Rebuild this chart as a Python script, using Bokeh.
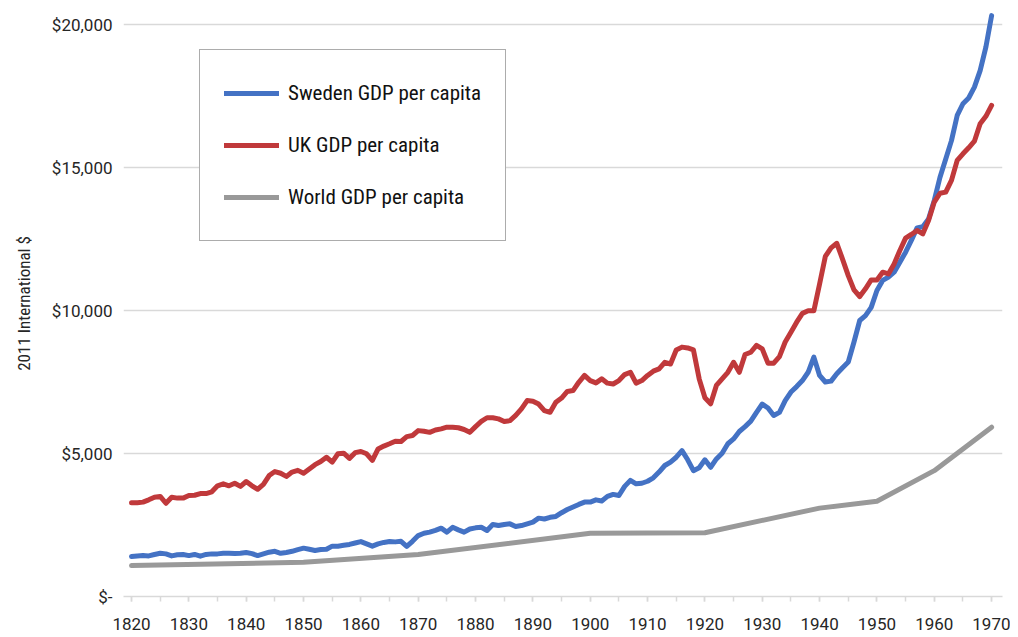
from bokeh.plotting import figure
from bokeh.models import FixedTicker, CustomJSTickFormatter, Legend, LegendItem, Range1d
from bokeh.embed import file_html
from bokeh.resources import INLINE

# ---------------- data ----------------
years = list(range(1820, 1971))

sweden_gdp = [
    1400, 1420, 1430, 1420, 1470, 1510, 1490, 1420, 1460, 1470,   # 1820-1829
    1430, 1470, 1410, 1470, 1490, 1490, 1510, 1510, 1500, 1510,   # 1830-1839
    1540, 1500, 1430, 1490, 1550, 1580, 1510, 1540, 1580, 1640,   # 1840-1849
    1690, 1650, 1610, 1640, 1650, 1760, 1760, 1790, 1820, 1870,   # 1850-1859
    1920, 1840, 1760, 1840, 1890, 1920, 1910, 1930, 1750, 1930,   # 1860-1869
    2130, 2210, 2250, 2310, 2390, 2250, 2420, 2330, 2250, 2360,   # 1870-1879
    2400, 2420, 2310, 2520, 2480, 2520, 2540, 2450, 2480, 2540,   # 1880-1889
    2600, 2740, 2710, 2770, 2800, 2930, 3040, 3130, 3220, 3300,   # 1890-1899
    3300, 3380, 3340, 3500, 3570, 3530, 3850, 4060, 3940, 3960,   # 1900-1909
    4030, 4150, 4350, 4580, 4700, 4870, 5100, 4780, 4400, 4500,   # 1910-1919
    4780, 4520, 4810, 5010, 5340, 5510, 5770, 5940, 6130, 6440,   # 1920-1929
    6730, 6590, 6330, 6440, 6850, 7150, 7340, 7550, 7840, 8370,   # 1930-1939
    7730, 7500, 7530, 7790, 8000, 8200, 8900, 9650, 9820, 10110,  # 1940-1949
    10700, 11050, 11170, 11340, 11690, 12040, 12450, 12890, 12930, 13200,  # 1950-1959
    13850, 14660, 15300, 15940, 16820, 17230, 17430, 17810, 18390, 19210,  # 1960-1969
    20310,                                                          # 1970
]

uk_gdp = [
    3280, 3280, 3300, 3380, 3470, 3500, 3260, 3470, 3440, 3440,   # 1820-1829
    3530, 3540, 3600, 3600, 3660, 3870, 3940, 3870, 3960, 3850,   # 1830-1839
    4020, 3870, 3750, 3920, 4230, 4370, 4310, 4200, 4350, 4410,   # 1840-1849
    4310, 4460, 4610, 4720, 4870, 4700, 4990, 5010, 4830, 5030,   # 1850-1859
    5070, 4990, 4760, 5160, 5260, 5340, 5430, 5420, 5590, 5630,   # 1860-1869
    5800, 5780, 5740, 5820, 5860, 5920, 5920, 5900, 5840, 5740,   # 1870-1879
    5940, 6120, 6250, 6250, 6210, 6120, 6150, 6330, 6560, 6850,   # 1880-1889
    6830, 6730, 6500, 6440, 6790, 6940, 7170, 7200, 7490, 7730,   # 1890-1899
    7550, 7470, 7610, 7460, 7430, 7550, 7760, 7840, 7460, 7550,   # 1900-1909
    7730, 7880, 7960, 8190, 8130, 8620, 8720, 8690, 8620, 7610,   # 1910-1919
    6950, 6740, 7380, 7610, 7840, 8190, 7840, 8460, 8540, 8780,   # 1920-1929
    8660, 8160, 8160, 8390, 8900, 9240, 9590, 9900, 9990, 9990,   # 1930-1939
    10930, 11890, 12190, 12350, 11800, 11220, 10720, 10490, 10760, 11070,  # 1940-1949
    11070, 11340, 11280, 11630, 12100, 12530, 12660, 12800, 12680, 13150,  # 1950-1959
    13790, 14100, 14140, 14550, 15250, 15480, 15690, 15920, 16530, 16790,  # 1960-1969
    17170,                                                          # 1970
]

world_years = [1820, 1850, 1870, 1900, 1920, 1940, 1950, 1960, 1970]
world_gdp = [1080, 1200, 1470, 2210, 2230, 3090, 3330, 4400, 5920]

series_labels = ["Sweden GDP per capita", "UK GDP per capita", "World GDP per capita"]
y_ticks = [0, 5000, 10000, 15000, 20000]
x_major_ticks = list(range(1820, 1971, 10))
x_minor_ticks = list(range(1820, 1971, 5))
y_axis_title = "2011 International $"

# ---------------- styling ----------------
NARROW = "Roboto Condensed"
TICKFONT = "Roboto"
TEXT_COLOR = "#262626"
GRID = "#d9d9d9"

p = figure(width=1010, height=637, output_backend="svg", toolbar_location=None,
           x_range=Range1d(1818.6, 1971.9), y_range=Range1d(0, 20490),
           min_border_left=123, min_border_right=8, min_border_top=10,
           min_border_bottom=41)
p.outline_line_color = None
p.background_fill_color = "white"
p.border_fill_color = "white"

p.xgrid.visible = False
p.ygrid.grid_line_color = GRID
p.ygrid.grid_line_width = 1.5

# y axis
p.yaxis.ticker = FixedTicker(ticks=y_ticks)
p.yaxis.formatter = CustomJSTickFormatter(code="""
    if (tick == 0) { return '$-'; }
    return '$' + Math.round(tick).toLocaleString('en-US');
""")
p.yaxis.axis_line_color = None
p.yaxis.major_tick_line_color = None
p.yaxis.minor_tick_line_color = None
p.yaxis.major_label_standoff = 5
p.yaxis.major_label_text_font = TICKFONT
p.yaxis.major_label_text_font_size = "17px"
p.yaxis.major_label_text_color = TEXT_COLOR
p.yaxis.axis_label = y_axis_title
p.yaxis.axis_label_text_font = NARROW
p.yaxis.axis_label_text_font_size = "17px"
p.yaxis.axis_label_text_font_style = "normal"
p.yaxis.axis_label_text_color = TEXT_COLOR
p.yaxis.axis_label_standoff = 15

# x axis
p.xaxis.ticker = FixedTicker(ticks=x_major_ticks, minor_ticks=x_minor_ticks)
p.xaxis.axis_line_color = GRID
p.xaxis.axis_line_width = 1.5
p.xaxis.major_tick_line_color = GRID
p.xaxis.major_tick_line_width = 1.5
p.xaxis.minor_tick_line_color = GRID
p.xaxis.minor_tick_line_width = 1.5
p.xaxis.major_tick_in = 0
p.xaxis.major_tick_out = 5
p.xaxis.minor_tick_in = 0
p.xaxis.minor_tick_out = 5
p.xaxis.major_label_standoff = 16
p.xaxis.major_label_text_font = TICKFONT
p.xaxis.major_label_text_font_size = "17px"
p.xaxis.major_label_text_color = TEXT_COLOR

# lines
r_se = p.line(years, sweden_gdp, line_width=5, line_color="#4472C4",
              line_cap="round", line_join="round")
r_uk = p.line(years, uk_gdp, line_width=5, line_color="#C0393B",
              line_cap="round", line_join="round")
r_w = p.line(world_years, world_gdp, line_width=5, line_color="#999999",
             line_cap="round", line_join="round")

legend = Legend(items=[LegendItem(label=series_labels[0], renderers=[r_se]),
                       LegendItem(label=series_labels[1], renderers=[r_uk]),
                       LegendItem(label=series_labels[2], renderers=[r_w])],
                location=(76, 355))
legend.border_line_color = "#595959"
legend.border_line_width = 1
legend.background_fill_color = "white"
legend.background_fill_alpha = 1
legend.label_text_font = NARROW
legend.label_text_font_size = "21px"
legend.label_text_color = "#111111"
legend.glyph_width = 55
legend.glyph_height = 38
legend.label_height = 38
legend.spacing = 14
legend.padding = 24
legend.label_standoff = 9
legend.margin = 0
p.add_layout(legend)

open("out.html", "w").write(file_html(p, INLINE))
